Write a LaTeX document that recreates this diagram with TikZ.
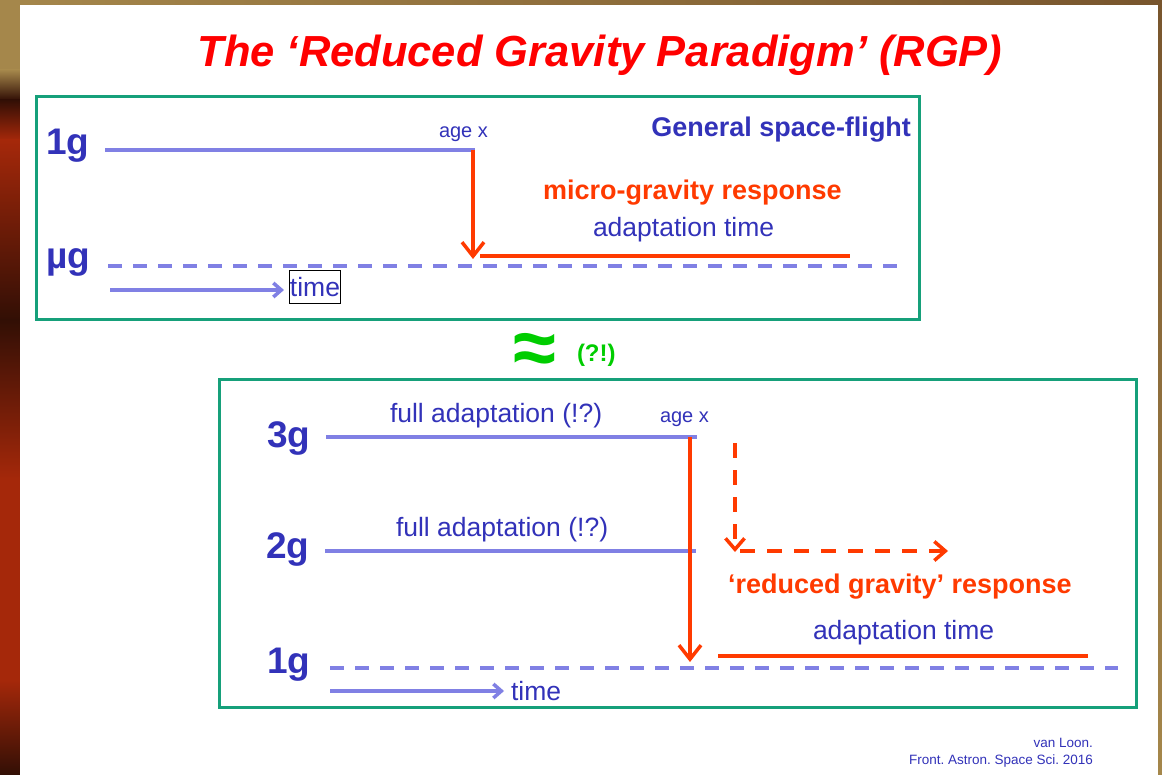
\documentclass[tikz,border=0pt]{standalone}
\usepackage{fontspec}
\setmainfont{Liberation Sans}
\newfontfamily\djv{DejaVu Sans}
\usetikzlibrary{arrows.meta}
\definecolor{gbox}{RGB}{22,160,122}
\definecolor{txtblue}{RGB}{50,50,185}
\definecolor{lineblue}{RGB}{128,128,228}
\definecolor{rred}{RGB}{255,58,0}
\definecolor{tgreen}{RGB}{0,205,0}
\definecolor{ttlred}{RGB}{255,0,0}
\definecolor{bgtan}{RGB}{165,135,75}
\definecolor{bgbrown}{RGB}{120,85,45}
\definecolor{bgred}{RGB}{165,40,10}
\definecolor{bgdark}{RGB}{50,15,5}
\frenchspacing
\begin{document}
\begin{tikzpicture}[x=1pt,y=-1pt,
  every node/.style={inner sep=0pt,outer sep=0pt},
  panel/.style={draw=gbox,line width=3pt},
  glabel/.style={font=\fontsize{37}{40}\selectfont\bfseries,text=txtblue},
  lbl/.style={font=\fontsize{26.5}{30}\selectfont,text=txtblue},
  smalllbl/.style={font=\fontsize{20}{24}\selectfont,text=txtblue},
  resp/.style={font=\fontsize{27}{30}\selectfont\bfseries,text=rred},
  level/.style={draw=lineblue,line width=4pt},
  leveldash/.style={draw=lineblue,line width=3.5pt,dash pattern=on 14pt off 11pt},
  drop/.style={draw=rred,line width=3.5pt,-{Straight Barb[length=14pt,width=22pt]}},
  dropdash/.style={draw=rred,line width=3.5pt,dash pattern=on 15pt off 12pt,-{Straight Barb[length=11pt,width=19pt]}},
  adapt/.style={draw=rred,line width=4pt},
  timearrow/.style={draw=lineblue,line width=3.5pt,-{Straight Barb[length=8pt,width=14pt]}},
  foot/.style={font=\fontsize{13.5}{16}\selectfont,text=txtblue}
]
\useasboundingbox (0,0) rectangle (1162,775);
% slide background
\fill[bgbrown] (0,0) rectangle (1162,775);
\shade[left color=bgtan,right color=bgbrown] (0,0) rectangle (1162,5);
\shade[top color=bgtan,bottom color=bgtan] (0,0) rectangle (20,70);
\shade[top color=bgtan,bottom color=bgdark] (0,70) rectangle (20,100);
\shade[top color=bgdark,bottom color=bgred] (0,100) rectangle (20,140);
\shade[top color=bgred,bottom color=bgdark] (0,140) rectangle (20,320);
\shade[top color=bgdark,bottom color=bgred] (0,320) rectangle (20,480);
\shade[top color=bgred,bottom color=bgred] (0,480) rectangle (20,680);
\shade[top color=bgred,bottom color=bgdark] (0,680) rectangle (20,775);
\shade[top color=bgbrown,bottom color=bgtan] (1158,0) rectangle (1162,775);
\fill[white] (20,5) rectangle (1158,775);

% title
\node[anchor=base,font=\fontsize{43.5}{48}\selectfont\bfseries\itshape,text=ttlred] (title) at (600,67) {The ‘Reduced Gravity Paradigm’ (RGP)};

% ---------- top panel ----------
\node[panel,minimum width=883pt,minimum height=223pt] (toppanel) at (477.5,208.5) {};
\node[glabel,anchor=base west] (oneg) at (46,155) {1g};
\node[glabel,anchor=base west] (mug) at (46,269) {µg};
\node[smalllbl,anchor=base west] (agexa) at (439,138) {age x};
\node[font=\fontsize{27}{30}\selectfont\bfseries,text=txtblue,anchor=base east] (gsf) at (911,137) {General space-flight};
\node[resp,anchor=base west] (mgr) at (543,200) {micro-gravity response};
\node[lbl,anchor=base west] (adta) at (593,237) {adaptation time};
\node[lbl,draw=black,line width=1pt,minimum width=50pt,minimum height=33pt] (timea) at (315,287.5) {time};

\coordinate (a1s) at (105,150);
\coordinate (a1e) at (475,150);
\coordinate (dropA) at (473,150);
\coordinate (dropAend) at (473,259);
\coordinate (rAs) at (480,256);
\coordinate (rAe) at (850,256);
\coordinate (muS) at (108,266);
\coordinate (muE) at (898,266);
\coordinate (tAs) at (110,290);

\draw[level] (a1s) -- (a1e);
\draw[leveldash] (muS) -- (muE);
\draw[adapt] (rAs) -- (rAe);
\draw[drop] (dropA) -- (dropAend);
\draw[timearrow] (tAs) -- ([xshift=-6pt]timea.west |- tAs);

% approx
\node[font=\fontsize{78}{78}\selectfont\bfseries,text=tgreen] (approx) at (535,354) {≈};
\node[font=\fontsize{24}{28}\selectfont\bfseries,text=tgreen,anchor=base west] (qe) at (577,362) {(?!)};

% ---------- bottom panel ----------
\node[panel,minimum width=917pt,minimum height=327pt] (botpanel) at (677.5,543.5) {};
\node[glabel,anchor=base west] (threeg) at (267,447) {3g};
\node[glabel,anchor=base west] (twog) at (266,558) {2g};
\node[glabel,anchor=base west] (oneg2) at (267,673) {1g};
\node[lbl,anchor=base west] (fa1) at (390,423) {full adaptation (!?)};
\node[lbl,anchor=base west] (fa2) at (396,536) {full adaptation (!?)};
\node[smalllbl,anchor=base west] (agexb) at (660,422) {age x};
\node[resp,anchor=base west] (rgr) at (728,593) {‘reduced gravity’ response};
\node[lbl,anchor=base west] (adtb) at (813,639) {adaptation time};
\node[lbl,anchor=base west] (timeb) at (511,700) {time};

\coordinate (l3s) at (326,437);
\coordinate (l3e) at (697,437);
\coordinate (l2s) at (325,551);
\coordinate (l2e) at (696,551);
\coordinate (dropB) at (690,437);
\coordinate (dropBend) at (690,662);
\coordinate (ddS) at (735,443);
\coordinate (ddC) at (735,552);
\coordinate (ddH) at (740,551);
\coordinate (ddE) at (948,551);
\coordinate (rBs) at (718,656);
\coordinate (rBe) at (1088,656);
\coordinate (d1S) at (330,668);
\coordinate (d1E) at (1118,668);
\coordinate (tBs) at (330,691);

\draw[level] (l3s) -- (l3e);
\draw[level] (l2s) -- (l2e);
\draw[leveldash] (d1S) -- (d1E);
\draw[adapt] (rBs) -- (rBe);
\draw[drop] (dropB) -- (dropBend);
\draw[dropdash] (ddS) -- (ddC);
\draw[dropdash] (ddH) -- (ddE);
\draw[timearrow] (tBs) -- ([xshift=-7pt]timeb.west |- tBs);

% footer
\node[foot,anchor=base east] (f1) at (1093,747) {van Loon.};
\node[foot,anchor=base east] (f2) at (1093,764) {Front. Astron. Space Sci. 2016};
\end{tikzpicture}
\end{document}
